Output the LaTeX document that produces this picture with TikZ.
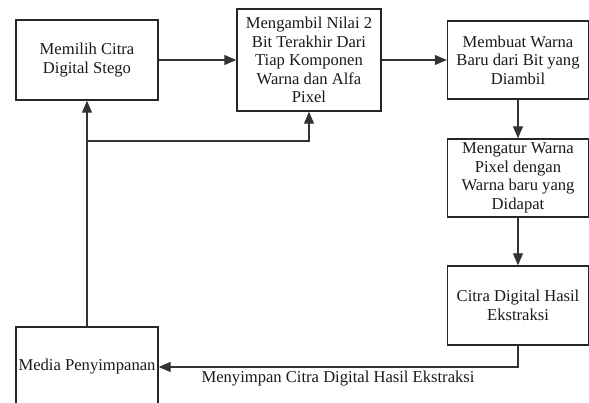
\documentclass[tikz,border=0pt]{standalone}
\usepackage{fontspec}
\setmainfont{Liberation Serif}
\usetikzlibrary{arrows.meta}
\begin{document}
\begin{tikzpicture}[x=1pt,y=-1pt,
  box/.style={draw=black!85,line width=1.4pt,rectangle,inner sep=0pt,align=center,
     font=\fontsize{16.6}{18.6}\selectfont,text=black!90},
  conn/.style={draw=black!80,line width=1.1pt},
  arr/.style={conn,-{Triangle[length=12pt,width=10pt]}},
  lbl/.style={font=\fontsize{16.6}{18.6}\selectfont,text=black!90,inner sep=0pt}]
\useasboundingbox (0,0) rectangle (589,403);
\node[box,minimum width=142pt,minimum height=80pt] (b1) at (87,60) {Memilih Citra\\Digital Stego};
\node[box,minimum width=144pt,minimum height=102pt] (b2) at (309,60) {Mengambil Nilai 2\\Bit Terakhir Dari\\Tiap Komponen\\Warna dan Alfa\\Pixel};
\node[box,minimum width=141pt,minimum height=78pt] (b3) at (518,60) {Membuat Warna\\Baru dari Bit yang\\Diambil};
\node[box,minimum width=141pt,minimum height=78pt] (b4) at (518,178) {Mengatur Warna\\Pixel dengan\\Warna baru yang\\Didapat};
\node[box,minimum width=141pt,minimum height=79pt] (b5) at (518,305.5) {Citra Digital Hasil\\Ekstraksi};
\node[box,minimum width=142pt,minimum height=80pt] (b6) at (87,367) {Media Penyimpanan};
\coordinate (j) at (87,141);
\draw[arr] (b1) -- (b2);
\draw[arr] (b2) -- (b3);
\draw[arr] (b3) -- (b4);
\draw[arr] (b4) -- (b5);
\draw[arr] (b5.south) |- (b6.east);
\draw[arr] (b6.north) -- (b1.south);
\draw[arr] (j) -| (b2.south);
\node[lbl] (l) at (338,379) {Menyimpan Citra Digital Hasil Ekstraksi};
\end{tikzpicture}
\end{document}
